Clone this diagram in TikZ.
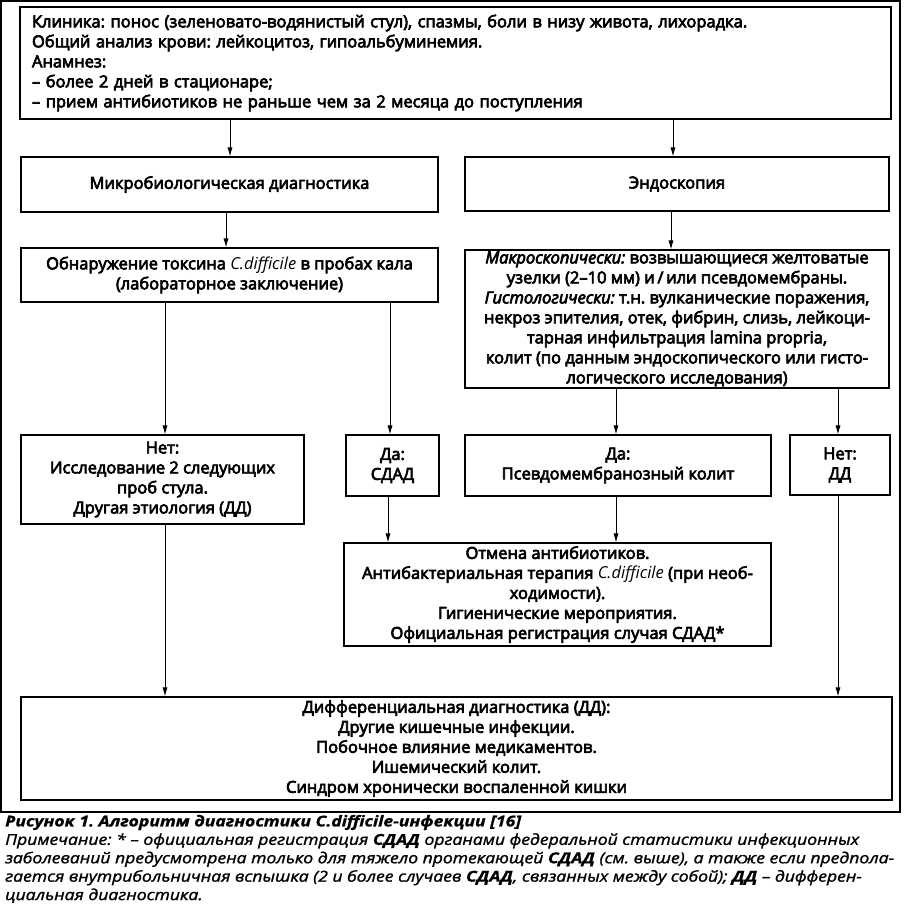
\documentclass[tikz,border=0pt]{standalone}
\usepackage{fontspec}
\setmainfont{Open Sans}
\newfontfamily\bx{Open Sans}[FakeBold=4]
\newfontfamily\lt{Open Sans}
\newfontfamily\capf{Open Sans}[FakeStretch=1.17,FakeBold=1.5]
\newfontfamily\capb{Open Sans}[FakeStretch=1.17,FakeBold=1]
\usetikzlibrary{arrows.meta}
\begin{document}
\frenchspacing
\begin{tikzpicture}[x=1pt,y=-1pt,
  box/.style={draw,line width=1.1pt,inner sep=0pt,align=center,font=\bx\frenchspacing\fontsize{16.5}{20}\selectfont},
  arr/.style={-{Latex[length=9pt,width=5pt]},line width=0.8pt},
  frame/.style={draw,line width=1.3pt,inner sep=0pt}]
\useasboundingbox (0,0) rectangle (903,904);
\node[frame,minimum width=899pt,minimum height=811pt] (outer) at (450.5,406.5) {};
\node[box,minimum width=871pt,minimum height=112pt,inner xsep=12pt,text width=847pt,align=left] (top) at (455.5,63) {Клиника: понос (зеленовато-водянистый стул), спазмы, боли в низу живота, лихорадка.\\Общий анализ крови: лейкоцитоз, гипоальбуминемия.\\Анамнез:\\– более 2 дней в стационаре;\\– прием антибиотиков не раньше чем за 2 месяца до поступления};
\node[box,minimum width=417pt,minimum height=55pt] (micro) at (229.5,184.5) {Микробиологическая диагностика};
\node[box,minimum width=424pt,minimum height=54pt] (endo) at (677,184) {Эндоскопия};
\node[box,minimum width=417pt,minimum height=54pt] (obn) at (229.5,275) {Обнаружение токсина {\lt\itshape C.difficile} в пробах кала\\(лабораторное заключение)};
\node[box,minimum width=424pt,minimum height=138pt] (macro) at (677,319) {{\itshape Макроскопически:} возвышающиеся желтоватые\\узелки (2–10 мм) и\,/\,или псевдомембраны.\\{\itshape Гистологически:} т.н. вулканические поражения,\\некроз эпителия, отек, фибрин, слизь, лейкоци-\\тарная инфильтрация lamina propria,\\колит (по данным эндоскопического или гисто-\\логического исследования)};
\node[box,minimum width=283pt,minimum height=89pt] (net) at (162.5,479.5) {Нет:\\Исследование 2 следующих\\проб стула.\\Другая этиология (ДД)};
\node[box,minimum width=93pt,minimum height=61pt] (sdad) at (392.5,465.5) {Да:\\СДАД};
\node[box,minimum width=306pt,minimum height=61pt] (pseudo) at (618,465.5) {Да:\\Псевдомембранозный колит};
\node[box,minimum width=100pt,minimum height=60pt] (netdd) at (840,465) {Нет:\\ДД};
\node[box,minimum width=427pt,minimum height=103pt] (otm) at (557.5,594.5) {Отмена антибиотиков.\\Антибактериальная терапия {\lt\itshape C.difficile} (при необ-\\ходимости).\\Гигиенические мероприятия.\\Официальная регистрация случая СДАД*};
\node[box,minimum width=871pt,minimum height=103pt] (dd) at (456.5,748.5) {Дифференциальная диагностика (ДД):\\Другие кишечные инфекции.\\Побочное влияние медикаментов.\\Ишемический колит.\\Синдром хронически воспаленной кишки};
\node[anchor=south west,inner sep=0pt,align=left,font=\capf\frenchspacing\fontsize{15}{18.4}\selectfont\itshape] (cap) at (5,903) {{\capb\bfseries Рисунок 1. Алгоритм диагностики C.difficile-инфекции [16]}\\Примечание: * – официальная регистрация {\capb\bfseries СДАД} органами федеральной статистики инфекционных\\заболеваний предусмотрена только для тяжело протекающей {\capb\bfseries СДАД} (см. выше), а также если предпола-\\гается внутрибольничная вспышка (2 и более случаев {\capb\bfseries СДАД}, связанных между собой); {\capb\bfseries ДД} – дифферен-\\циальная диагностика.};
\coordinate (xa) at (230,0);
\coordinate (xb) at (673,0);
\coordinate (xc) at (226,0);
\coordinate (xd) at (671,0);
\coordinate (xe) at (165,0);
\coordinate (xf) at (390,0);
\coordinate (xg) at (616,0);
\coordinate (xh) at (838,0);
\coordinate (xi) at (388,0);
\draw[arr] (top.south -| xa) -- (micro.north -| xa);
\draw[arr] (top.south -| xb) -- (endo.north -| xb);
\draw[arr] (micro.south -| xc) -- (obn.north -| xc);
\draw[arr] (endo.south -| xd) -- (macro.north -| xd);
\draw[arr] (obn.south -| xe) -- (net.north -| xe);
\draw[arr] (obn.south -| xf) -- (sdad.north -| xf);
\draw[arr] (macro.south -| xg) -- (pseudo.north -| xg);
\draw[arr] (macro.south -| xh) -- (netdd.north -| xh);
\draw[arr] (sdad.south -| xi) -- (otm.north -| xi);
\draw[arr] (pseudo.south -| xg) -- (otm.north -| xg);
\draw[arr] (net.south -| xe) -- (dd.north -| xe);
\draw[arr] (netdd.south -| xh) -- (dd.north -| xh);
\end{tikzpicture}
\end{document}
